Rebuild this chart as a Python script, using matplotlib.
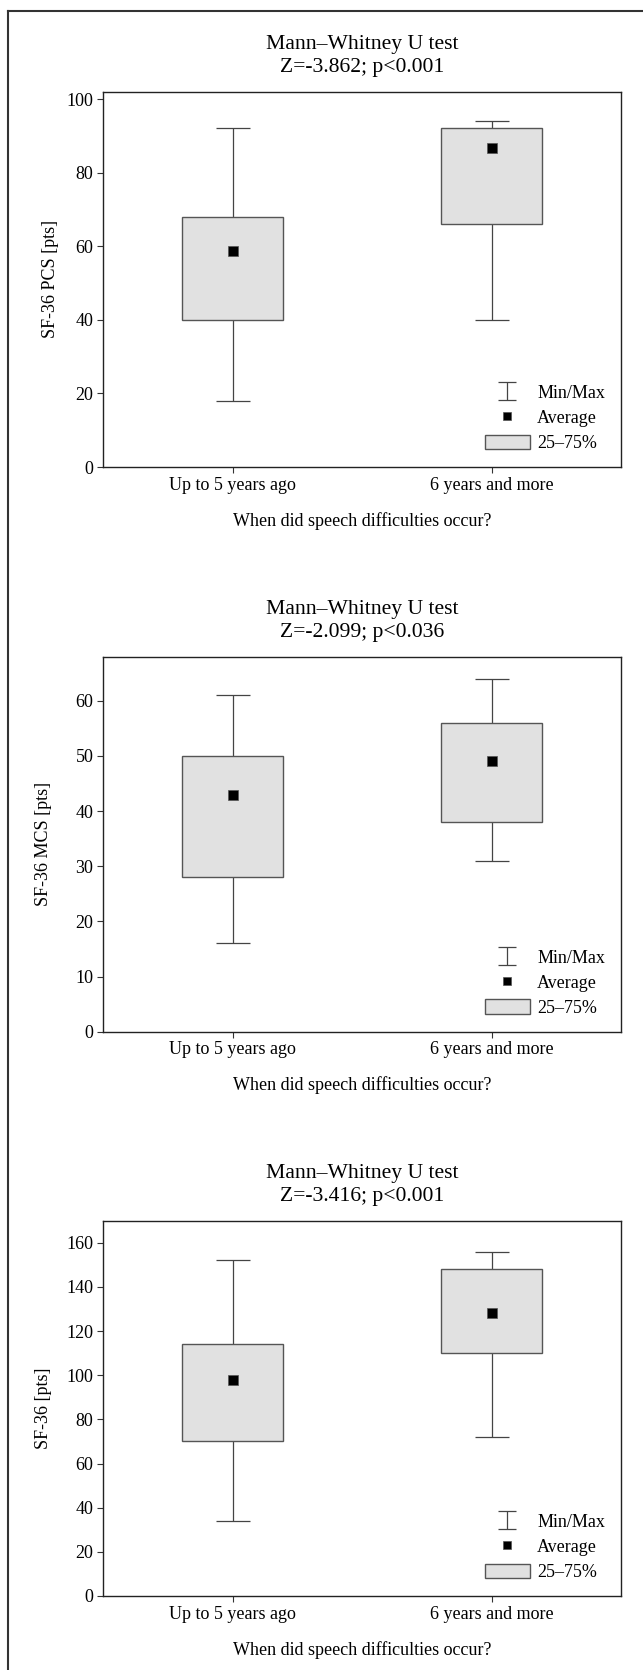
import matplotlib
matplotlib.use('Agg')

import numpy as np
import matplotlib.pyplot as plt
from matplotlib.lines import Line2D

plt.rcParams['font.family'] = ['Liberation Serif', 'DejaVu Serif']
plt.rcParams['font.size'] = 13

# datos
categories = ["Up to 5 years ago", "6 years and more"]
x_label = "When did speech difficulties occur?"

titles = ["Mann\u2013Whitney U test\nZ=-3.862; p<0.001",
          "Mann\u2013Whitney U test\nZ=-2.099; p<0.036",
          "Mann\u2013Whitney U test\nZ=-3.416; p<0.001"]
y_labels = ["SF-36 PCS [pts]", "SF-36 MCS [pts]", "SF-36 [pts]"]

pcs_min = [18, 40]
pcs_q1 = [40, 66]
pcs_mean = [58.7, 86.7]
pcs_q3 = [68, 92]
pcs_max = [92, 94]

mcs_min = [16, 31]
mcs_q1 = [28, 38]
mcs_mean = [43, 49]
mcs_q3 = [50, 56]
mcs_max = [61, 64]

tot_min = [34, 72]
tot_q1 = [70, 110]
tot_mean = [98, 128]
tot_q3 = [114, 148]
tot_max = [152, 156]

y_limits = [(0, 102), (0, 68), (0, 170)]
y_ticks = [np.arange(0, 101, 20), np.arange(0, 61, 10), np.arange(0, 161, 20)]

panels = [
    (pcs_min, pcs_q1, pcs_mean, pcs_q3, pcs_max),
    (mcs_min, mcs_q1, mcs_mean, mcs_q3, mcs_max),
    (tot_min, tot_q1, tot_mean, tot_q3, tot_max),
]

W, H = 643, 1670
fig = plt.figure(figsize=(W / 100, H / 100), dpi=100)

# posiciones de los ejes en pixeles (arriba, abajo)
ax_left, ax_right = 103, 621
ax_tops = [91.7, 656.7, 1220.7]
ax_bottoms = [467, 1031.7, 1596]
ylabel_x = [-0.0857, -0.0985, -0.0985]

box_color = '#e1e1e1'
edge_color = '#555555'
line_color = '#444444'

for i, (vmin, q1, vmean, q3, vmax) in enumerate(panels):
    ax = fig.add_axes([ax_left / W, 1 - ax_bottoms[i] / H,
                       (ax_right - ax_left) / W, (ax_bottoms[i] - ax_tops[i]) / H])
    x = np.arange(len(categories))
    vmin, q1, vmean, q3, vmax = map(np.asarray, (vmin, q1, vmean, q3, vmax))

    err = ax.errorbar(x, q1, yerr=[q1 - vmin, vmax - q1], fmt='none',
                      ecolor=line_color, elinewidth=0.9, capsize=12, capthick=0.9,
                      zorder=1)
    boxes = ax.bar(x, q3 - q1, bottom=q1, width=0.39, color=box_color,
                   edgecolor=edge_color, linewidth=1.0, zorder=2, label='25\u201375%')
    mean_line, = ax.plot(x, vmean, 's', ms=7.8, color='black', mec='#555555',
                         mew=0.5, zorder=3, label='Average')

    # proxy para la leyenda (tapas mas cortas)
    leg_err = ax.errorbar([np.nan], [np.nan], yerr=[np.nan], fmt='none',
                          ecolor=line_color, elinewidth=0.9, capsize=6.5,
                          capthick=0.9, label='Min/Max')

    ax.set_xlim(-0.5, 1.5)
    ax.set_ylim(*y_limits[i])
    ax.set_xticks(x)
    ax.set_xticklabels(categories)
    ax.set_yticks(y_ticks[i])
    ax.tick_params(direction='out', length=4, width=0.8, color='#333333', pad=3)
    for s in ax.spines.values():
        s.set_linewidth(1.0)
        s.set_color('#222222')

    ax.set_title(titles[i], pad=14, linespacing=1.3)
    ax.set_xlabel(x_label, labelpad=13)
    ax.set_ylabel(y_labels[i])
    ax.yaxis.set_label_coords(ylabel_x[i], 0.5)

    ax.legend([leg_err, mean_line, boxes], ['Min/Max', 'Average', '25\u201375%'],
              loc='lower right', bbox_to_anchor=(0.969, 0.04), frameon=False,
              borderpad=0, borderaxespad=0, handlelength=2.5, handleheight=0.83,
              handletextpad=0.39, labelspacing=0.42, markerscale=0.71)

# marco exterior (solo arriba e izquierda)
fig.add_artist(Line2D([8 / W, 1.0], [1 - 11 / H, 1 - 11 / H], transform=fig.transFigure,
                      color='#333333', linewidth=1.5))
fig.add_artist(Line2D([8 / W, 8 / W], [1 - 11 / H, 0.0], transform=fig.transFigure,
                      color='#333333', linewidth=1.5))

fig.savefig('out.png', dpi=100)
